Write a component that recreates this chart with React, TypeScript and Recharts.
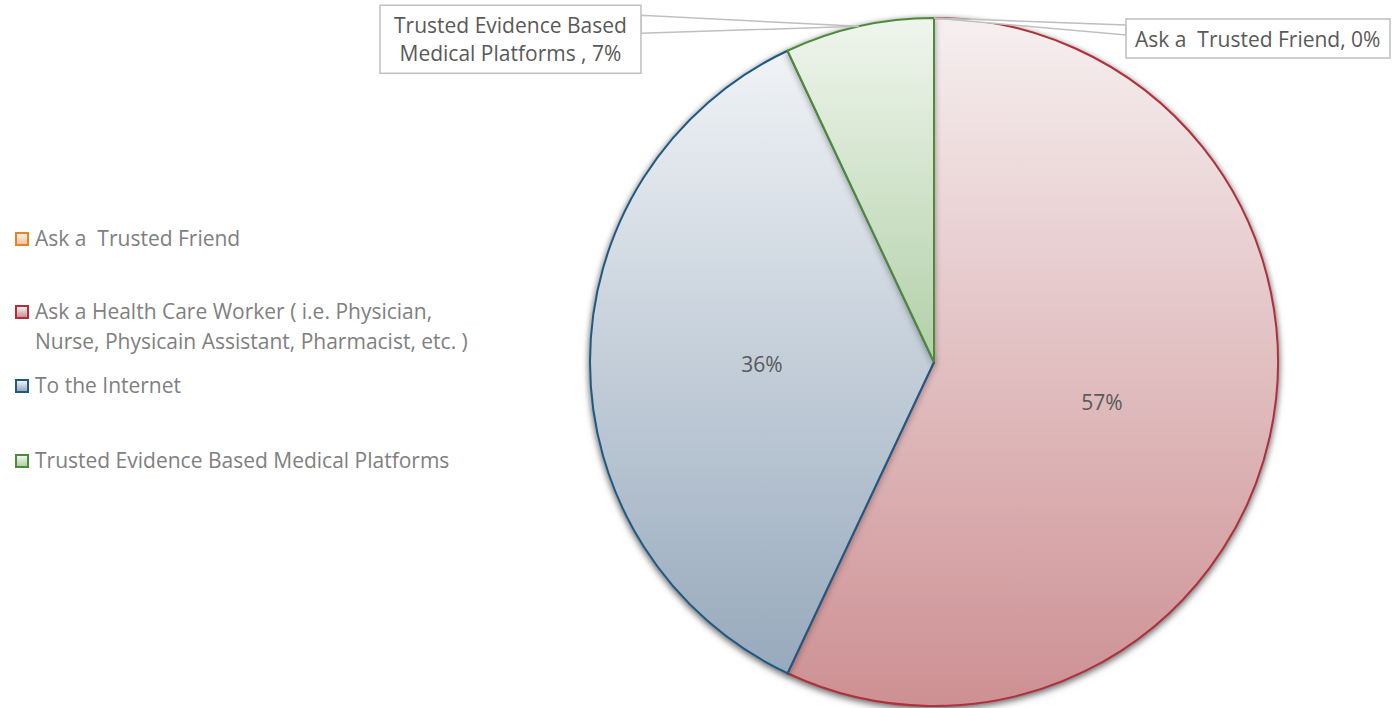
import React from 'react';
import { PieChart, Pie, Cell } from 'recharts';

const categories = [
  'Ask a  Trusted Friend',
  'Ask a Health Care Worker ( i.e. Physician, Nurse, Physicain Assistant, Pharmacist, etc. )',
  'To the Internet',
  'Trusted Evidence Based Medical Platforms ',
];
const shares = [0, 57, 36, 7];

const strokes = ['#e8822a', '#b0303b', '#1f5a84', '#4d8b3b'];
const gradTop = ['#fdf1e9', '#f6eff0', '#f0f3f6', '#eff5ed'];
const gradBottom = ['#f5c29d', '#cd9093', '#97a9bc', '#b2d0a8'];

const data = categories.map((name, i) => ({ name, value: shares[i] }));

const FONT = '"Open Sans", Lato, sans-serif';
const RAD = Math.PI / 180;

// callout layout for the outside labels (offsets relative to the anchor on the pie edge)
const callouts: Record<number, { dx: number; dy: number; w: number; h: number; align: 'left' | 'center'; wedge: [number, number]; maxChars: number }> = {
  0: { dx: 192, dy: 1, w: 264, h: 39, align: 'left', wedge: [6, 16], maxChars: 60 },
  3: { dx: -479, dy: -21, w: 261, h: 68, align: 'center', wedge: [10, 28], maxChars: 24 },
};

const legendGaps = [0, 43, 14, 45];

function wrap(text: string, maxChars: number): string[] {
  const words = text.split(' ');
  const lines: string[] = [];
  let cur = '';
  words.forEach((w, i) => {
    const cand = i === 0 ? w : cur + ' ' + w;
    if (cand.length > maxChars && cur.length > 0) {
      lines.push(cur);
      cur = w;
    } else {
      cur = cand;
    }
  });
  lines.push(cur);
  return lines;
}

const renderLabel = (props: any) => {
  const { cx, cy, midAngle, outerRadius, index, value, name } = props;
  const cfg = callouts[index];
  if (cfg) {
    const ax = cx + outerRadius * Math.cos(-midAngle * RAD);
    const ay = cy + outerRadius * Math.sin(-midAngle * RAD);
    const bx = ax + cfg.dx;
    const by = ay + cfg.dy;
    const edgeX = cfg.dx > 0 ? bx : bx + cfg.w;
    const text = `${name}, ${value}%`;
    const lines = wrap(text, cfg.maxChars);
    const lh = 28;
    const startY = by + cfg.h / 2 - ((lines.length - 1) * lh) / 2;
    return (
      <g key={`cl-${index}`}>
        <polygon
          points={`${ax},${ay} ${edgeX},${by + cfg.wedge[0]} ${edgeX},${by + cfg.wedge[1]}`}
          fill="#ffffff"
          stroke="#bfbfbf"
          strokeWidth={1.5}
        />
        <rect x={bx} y={by} width={cfg.w} height={cfg.h} fill="#ffffff" stroke="#bfbfbf" strokeWidth={1.5} />
        {lines.map((ln, k) => (
          <text
            key={k}
            x={cfg.align === 'left' ? bx + 9 : bx + cfg.w / 2}
            y={startY + k * lh}
            textAnchor={cfg.align === 'left' ? 'start' : 'middle'}
            dominantBaseline="central"
            fill="#595959"
            fontSize={21}
            fontFamily={FONT}
            style={{ whiteSpace: 'pre' }}
          >
            {ln}
          </text>
        ))}
      </g>
    );
  }
  const r = outerRadius * 0.5;
  const x = cx + r * Math.cos(-midAngle * RAD);
  const y = cy + r * Math.sin(-midAngle * RAD);
  return (
    <text
      key={`il-${index}`}
      x={x}
      y={y + 2}
      textAnchor="middle"
      dominantBaseline="central"
      fill="#595959"
      fontSize={21}
      fontFamily={FONT}
    >
      {`${value}%`}
    </text>
  );
};

function LegendBlock() {
  return (
    <div style={{ position: 'absolute', left: 15, top: 223, width: 480, fontFamily: FONT, fontSize: 21, color: '#808080' }}>
      {categories.map((name, i) => (
        <div key={i} style={{ display: 'flex', alignItems: 'flex-start', marginTop: legendGaps[i], lineHeight: '30px' }}>
          <span
            style={{
              display: 'inline-block',
              width: 10,
              height: 10,
              marginTop: 9,
              marginRight: 6,
              flex: '0 0 auto',
              border: `2px solid ${strokes[i]}`,
              background: `linear-gradient(${gradTop[i]}, ${gradBottom[i]})`,
            }}
          />
          <span style={{ width: 450, whiteSpace: 'pre-wrap' }}>{name.trim()}</span>
        </div>
      ))}
    </div>
  );
}

export default function App() {
  return (
    <div style={{ position: 'absolute', left: 0, top: 0, width: 1398, height: 708, background: '#ffffff' }}>
      <style>{`.pie-body { filter: drop-shadow(0px 2px 3px rgba(0,0,0,0.35)); }`}</style>
      <PieChart width={1398} height={708} margin={{ top: 0, right: 0, bottom: 0, left: 0 }}>
        <defs>
          {categories.map((_, i) => (
            <linearGradient key={i} id={`grad${i}`} x1="0" y1="0" x2="0" y2="1">
              <stop offset="0%" stopColor={gradTop[i]} />
              <stop offset="100%" stopColor={gradBottom[i]} />
            </linearGradient>
          ))}
        </defs>
        <Pie
          className="pie-body"
          data={data}
          dataKey="value"
          nameKey="name"
          cx={934}
          cy={362}
          outerRadius={344}
          startAngle={90}
          endAngle={-270}
          isAnimationActive={false}
          label={false}
          labelLine={false}
        >
          {data.map((_, i) => (
            <Cell key={i} fill={`url(#grad${i})`} stroke={strokes[i]} strokeWidth={2} />
          ))}
        </Pie>
        <Pie
          className="pie-labels"
          data={data}
          dataKey="value"
          nameKey="name"
          cx={934}
          cy={362}
          outerRadius={344}
          startAngle={90}
          endAngle={-270}
          isAnimationActive={false}
          label={renderLabel}
          labelLine={false}
          fill="none"
          stroke="none"
        >
          {data.map((_, i) => (
            <Cell key={i} fill="none" stroke="none" />
          ))}
        </Pie>
      </PieChart>
      <LegendBlock />
    </div>
  );
}
